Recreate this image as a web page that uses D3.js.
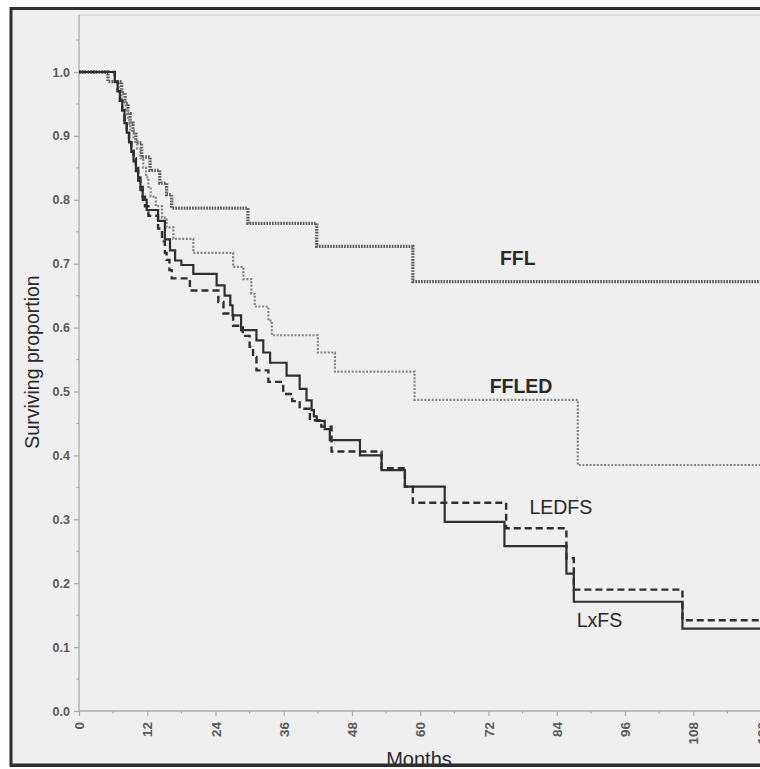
<!DOCTYPE html>
<html>
<head>
<meta charset="utf-8">
<script src="https://cdn.jsdelivr.net/npm/d3@7"></script>
<style>
html,body{margin:0;padding:0;background:#fff;}
svg{display:block;}
</style>
</head>
<body>
<svg id="chart" width="760" height="769"></svg>
<script>
// ---- data ----
const xTicks = [0, 12, 24, 36, 48, 60, 72, 84, 96, 108, 120];
const yTicks = [0.0, 0.1, 0.2, 0.3, 0.4, 0.5, 0.6, 0.7, 0.8, 0.9, 1.0];

const seriesNames = ["FFL", "FFLED", "LEDFS", "LxFS"];

const fflT = [0, 5.1, 7.5, 8.1, 8.6, 9.0, 9.5, 10.0, 11.0, 12.5, 14.2, 15.4, 16.3, 29.7, 41.8, 58.7, 122];
const fflS = [1.0, 0.985, 0.967, 0.951, 0.935, 0.920, 0.905, 0.889, 0.867, 0.846, 0.826, 0.808, 0.787, 0.763, 0.727, 0.672, 0.672];

const ffledT = [0, 6.3, 7.0, 7.5, 8.2, 8.6, 9.0, 9.6, 10.2, 10.8, 11.3, 11.8, 12.2, 12.6, 13.5, 14.6, 15.4, 16.6, 20.1, 27.1, 28.9, 30.3, 30.9, 33.3, 33.9, 42.0, 45.0, 59.0, 87.7, 122];
const ffledS = [1.0, 0.985, 0.97, 0.955, 0.94, 0.925, 0.91, 0.895, 0.88, 0.865, 0.85, 0.835, 0.82, 0.805, 0.79, 0.772, 0.757, 0.739, 0.717, 0.695, 0.676, 0.653, 0.633, 0.611, 0.588, 0.561, 0.531, 0.487, 0.385, 0.385];

const ledfsT = [0, 6.3, 6.8, 7.2, 7.6, 8.0, 8.4, 8.8, 9.2, 9.6, 10.0, 10.4, 10.8, 11.2, 11.6, 12.2, 13.9, 14.6, 15.1, 15.4, 15.9, 16.3, 19.5, 24.5, 25.4, 27.1, 28.8, 30.0, 30.6, 31.2, 33.3, 35.9, 37.5, 38.8, 40.6, 42.6, 44.4, 53.2, 57.3, 58.7, 75.1, 85.7, 87.0, 106.1, 122];
const ledfsS = [1.0, 0.985, 0.97, 0.955, 0.94, 0.925, 0.91, 0.895, 0.88, 0.865, 0.85, 0.835, 0.82, 0.805, 0.79, 0.775, 0.755, 0.735, 0.717, 0.706, 0.69, 0.677, 0.658, 0.640, 0.622, 0.603, 0.587, 0.570, 0.554, 0.533, 0.515, 0.496, 0.485, 0.473, 0.455, 0.445, 0.406, 0.380, 0.351, 0.326, 0.286, 0.239, 0.190, 0.142, 0.142];

const lxfsT = [0, 6.3, 6.8, 7.2, 7.6, 8.0, 8.4, 8.8, 9.2, 9.6, 10.0, 10.4, 10.8, 11.2, 11.9, 13.9, 15.1, 16.0, 16.9, 18.0, 20.1, 24.2, 25.6, 26.6, 27.0, 28.5, 31.2, 32.4, 33.6, 36.5, 38.8, 40.0, 40.9, 41.3, 41.8, 43.2, 44.1, 49.4, 53.2, 57.3, 64.3, 74.8, 85.7, 87.0, 106.1, 122];
const lxfsS = [1.0, 0.985, 0.97, 0.955, 0.94, 0.92, 0.905, 0.89, 0.875, 0.86, 0.845, 0.83, 0.815, 0.80, 0.784, 0.767, 0.738, 0.721, 0.705, 0.698, 0.684, 0.666, 0.650, 0.635, 0.619, 0.596, 0.580, 0.561, 0.545, 0.525, 0.504, 0.486, 0.471, 0.461, 0.454, 0.441, 0.424, 0.400, 0.377, 0.351, 0.296, 0.258, 0.215, 0.171, 0.129, 0.129];

const labelMonths = [74.0, 72.2, 79.2, 87.5];
const labelValues = [0.698, 0.497, 0.308, 0.132];

// ---- layout ----
const svg = d3.select("#chart");
const W = 760, H = 769;

// outer frame
svg.append("rect").attr("x", 0).attr("y", 0).attr("width", W).attr("height", H).attr("fill", "#ffffff");
svg.append("rect").attr("x", 11).attr("y", 8.5).attr("width", 790).attr("height", 757)
  .attr("fill", "#efefef").attr("stroke", "#2e2e2e").attr("stroke-width", 3);

const x = d3.scaleLinear().domain([0, 120]).range([79, 761.5]);
const y = d3.scaleLinear().domain([0, 1]).range([711, 72]);
const yTop = 15;

// plot frame top line
svg.append("line").attr("x1", x(0)).attr("x2", W).attr("y1", yTop).attr("y2", yTop)
  .attr("stroke", "#d2d2d2").attr("stroke-width", 1.2);

// axes
const axisColor = "#ababab";
const yAxis = d3.axisLeft(y).tickValues(yTicks).tickFormat(d3.format(".1f")).tickSize(5).tickPadding(4);
const gy = svg.append("g").attr("transform", `translate(${x(0)},0)`).call(yAxis);
gy.select(".domain").remove();
gy.append("line").attr("x1", 0).attr("x2", 0).attr("y1", y(0)).attr("y2", yTop).attr("stroke", axisColor).attr("stroke-width", 1.3);
gy.selectAll(".tick line").attr("stroke", axisColor).attr("stroke-width", 1.2);
gy.selectAll(".tick text").attr("font-family", "Liberation Sans, Arial, sans-serif").attr("font-size", 12.5)
  .attr("font-weight", "bold").attr("fill", "#5a5a5a");
// minor y ticks
const yMinor = d3.range(0.05, 1.1, 0.1);
svg.append("g").selectAll("line").data(yMinor).join("line")
  .attr("x1", x(0) - 2.5).attr("x2", x(0)).attr("y1", d => y(d)).attr("y2", d => y(d))
  .attr("stroke", axisColor).attr("stroke-width", 1.2);

const xAxis = d3.axisBottom(x).tickValues(xTicks).tickSize(5).tickPadding(0);
const gx = svg.append("g").attr("transform", `translate(0,${y(0)})`).call(xAxis);
gx.select(".domain").remove();
gx.append("line").attr("x1", x(0)).attr("x2", W).attr("y1", 0).attr("y2", 0).attr("stroke", axisColor).attr("stroke-width", 1.3);
gx.selectAll(".tick line").attr("stroke", axisColor).attr("stroke-width", 1.2);
gx.selectAll(".tick text")
  .attr("font-family", "Liberation Sans, Arial, sans-serif").attr("font-size", 13.5)
  .attr("font-weight", "bold").attr("fill", "#5a5a5a")
  .attr("text-anchor", "end").attr("dy", null).attr("y", 0)
  .attr("transform", "translate(4.5,11) rotate(-90)");
// minor x ticks
const xMinor = d3.range(6, 121, 12);
svg.append("g").selectAll("line").data(xMinor).join("line")
  .attr("x1", d => x(d)).attr("x2", d => x(d)).attr("y1", y(0)).attr("y2", y(0) + 2.5)
  .attr("stroke", axisColor).attr("stroke-width", 1.2);

// axis titles
svg.append("text").attr("transform", `translate(39,362) rotate(-90)`)
  .attr("text-anchor", "middle").attr("font-family", "Liberation Sans, Arial, sans-serif")
  .attr("font-size", 19.5).attr("fill", "#2a2a2a").text("Surviving proportion");
svg.append("text").attr("x", 419).attr("y", 766)
  .attr("text-anchor", "middle").attr("font-family", "Liberation Sans, Arial, sans-serif")
  .attr("font-size", 20).attr("fill", "#2a2a2a").text("Months");
// redraw bottom border over the title
svg.append("line").attr("x1", 11).attr("x2", W).attr("y1", 765).attr("y2", 765).attr("stroke", "#2e2e2e").attr("stroke-width", 3);

// ---- curves ----
const line = d3.line().x(d => x(d[0])).y(d => y(d[1])).curve(d3.curveStepAfter);
const series = [
  {t: fflT, s: fflS, stroke: "#5e5e5e", width: 3.3, dash: "1.7,1.1"},
  {t: ffledT, s: ffledS, stroke: "#858585", width: 2.2, dash: "2,1.6"},
  {t: ledfsT, s: ledfsS, stroke: "#2f2f2f", width: 2.4, dash: "7,4"},
  {t: lxfsT, s: lxfsS, stroke: "#2f2f2f", width: 2.2, dash: null}
];
const clip = svg.append("clipPath").attr("id", "plotclip").append("rect")
  .attr("x", x(0)).attr("y", yTop).attr("width", W - x(0)).attr("height", y(0) - yTop);
const gl = svg.append("g").attr("clip-path", "url(#plotclip)");
series.forEach(sr => {
  const pts = sr.t.map((t, i) => [t, sr.s[i]]);
  gl.append("path").attr("d", line(pts)).attr("fill", "none")
    .attr("stroke", sr.stroke).attr("stroke-width", sr.width)
    .attr("stroke-dasharray", sr.dash);
});

// ---- labels ----
const labelWeights = ["bold", "bold", "normal", "normal"];
svg.append("g").selectAll("text").data(seriesNames).join("text")
  .attr("x", (d, i) => x(labelMonths[i])).attr("y", (d, i) => y(labelValues[i]))
  .attr("font-family", "Liberation Sans, Arial, sans-serif").attr("font-size", 19.5)
  .attr("font-weight", (d, i) => labelWeights[i]).attr("fill", "#2a2a2a")
  .text(d => d);
</script>
</body>
</html>
